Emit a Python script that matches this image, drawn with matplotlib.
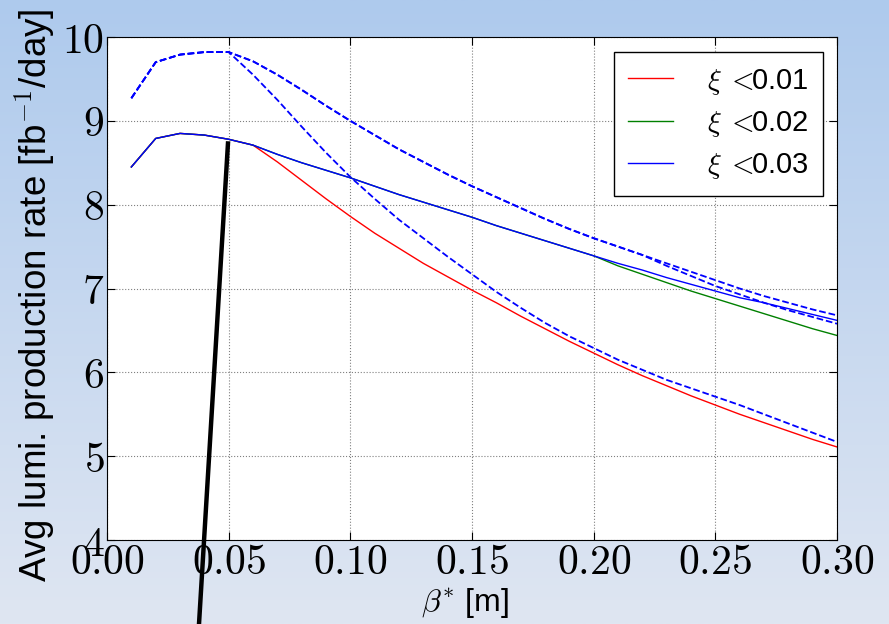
import numpy as np
import matplotlib
matplotlib.use("Agg")
import matplotlib.pyplot as plt
from matplotlib.ticker import FuncFormatter

plt.rcParams['font.family'] = ['Liberation Sans', 'DejaVu Sans']
plt.rcParams['mathtext.fontset'] = 'cm'

# beta* values [m]
beta = [0.01, 0.02, 0.03, 0.04, 0.05, 0.06, 0.07, 0.08, 0.09, 0.10,
        0.11, 0.12, 0.13, 0.14, 0.15, 0.16, 0.17, 0.18, 0.19, 0.20,
        0.21, 0.22, 0.23, 0.24, 0.25, 0.26, 0.27, 0.28, 0.29, 0.30]

# solid curves
rate_xi001 = [8.45, 8.79, 8.85, 8.83, 8.78, 8.71, 8.51, 8.29, 8.07, 7.86,
              7.66, 7.48, 7.30, 7.14, 6.98, 6.83, 6.67, 6.52, 6.37, 6.23,
              6.09, 5.96, 5.84, 5.72, 5.61, 5.50, 5.40, 5.30, 5.20, 5.11]
rate_xi002 = [8.45, 8.79, 8.85, 8.83, 8.78, 8.71, 8.60, 8.50, 8.41, 8.32,
              8.22, 8.12, 8.03, 7.94, 7.85, 7.75, 7.66, 7.57, 7.48, 7.39,
              7.27, 7.17, 7.07, 6.97, 6.88, 6.79, 6.70, 6.61, 6.52, 6.44]
rate_xi003 = [8.45, 8.79, 8.85, 8.83, 8.78, 8.71, 8.60, 8.50, 8.41, 8.32,
              8.22, 8.12, 8.03, 7.94, 7.85, 7.75, 7.66, 7.57, 7.48, 7.39,
              7.30, 7.22, 7.13, 7.05, 6.97, 6.89, 6.83, 6.76, 6.69, 6.62]

# dashed curves
peak_xi001 = [9.27, 9.70, 9.79, 9.82, 9.82, 9.55, 9.25, 8.93, 8.62, 8.33,
              8.07, 7.82, 7.60, 7.38, 7.17, 6.96, 6.77, 6.59, 6.43, 6.29,
              6.15, 6.03, 5.91, 5.81, 5.71, 5.61, 5.50, 5.39, 5.28, 5.17]
peak_xi002 = [9.27, 9.70, 9.79, 9.82, 9.82, 9.71, 9.55, 9.37, 9.18, 9.00,
              8.83, 8.66, 8.51, 8.36, 8.22, 8.09, 7.96, 7.83, 7.71, 7.60,
              7.50, 7.40, 7.27, 7.15, 7.03, 6.93, 6.83, 6.74, 6.66, 6.58]
peak_xi003 = [9.27, 9.70, 9.79, 9.82, 9.82, 9.71, 9.55, 9.37, 9.18, 9.00,
              8.83, 8.66, 8.51, 8.36, 8.22, 8.09, 7.96, 7.83, 7.71, 7.60,
              7.50, 7.40, 7.30, 7.20, 7.10, 7.00, 6.91, 6.83, 6.75, 6.68]

labels = [r'$\xi\;<\!\!$0.01', r'$\xi\;<\!\!$0.02', r'$\xi\;<\!\!$0.03']

# black pointer line drawn on the slide (data coords, runs past the axes)
pointer_x = [0.0497, 0.0378]
pointer_y = [8.73, 3.0]

fig = plt.figure(figsize=(8.89, 6.24), dpi=100)

# slide background gradient
bg = fig.add_axes([0, 0, 1, 1], zorder=-10)
top = np.array([174, 202, 237]) / 255.0
bottom = np.array([223, 230, 242]) / 255.0
t = np.linspace(0, 1, 256)[:, None]
grad = top[None, :] * (1 - t) + bottom[None, :] * t
bg.imshow(grad[:, None, :], aspect='auto', extent=[0, 1, 0, 1])
bg.axis('off')

ax = fig.add_axes([0.1204, 0.1346, 0.8211, 0.8061])
ax.plot(beta, rate_xi001, color='#ff0000', lw=1.0, label=labels[0])
ax.plot(beta, peak_xi001, color='#0000ff', lw=1.3, ls='--')
ax.plot(beta, rate_xi002, color='#008000', lw=1.0, label=labels[1])
ax.plot(beta, peak_xi002, color='#0000ff', lw=1.3, ls='--')
ax.plot(beta, rate_xi003, color='#0000ff', lw=1.0, label=labels[2])
ax.plot(beta, peak_xi003, color='#0000ff', lw=1.3, ls='--')

ax.plot(pointer_x, pointer_y, color='black', lw=3.2, clip_on=False, zorder=5)

ax.set_xlim(0.0, 0.30)
ax.set_ylim(4, 10)
ax.set_xticks(np.arange(0, 0.301, 0.05))
ax.set_yticks(np.arange(4, 10.1, 1))
ax.xaxis.set_major_formatter(FuncFormatter(lambda v, p: r'$%.2f$' % v))
ax.yaxis.set_major_formatter(FuncFormatter(lambda v, p: r'$%d$' % v))
ax.tick_params(direction='in', top=True, right=True, labelsize=30,
               length=6, width=0.8, pad=2)
ax.grid(True, color='0.5', ls=':', lw=0.8)

ax.set_xlabel(r'$\beta^{*}$ [m]', fontsize=23)
ax.xaxis.set_label_coords(0.49, -0.092)
ax.set_ylabel(r'Avg lumi. production rate [fb$^{-1}$/day]', fontsize=26.5)
ax.yaxis.set_label_coords(-0.068, 0.486)

leg = ax.legend(loc='upper right', fontsize=21, handlelength=1.55,
                handletextpad=1.15, borderpad=0.5, labelspacing=0.42,
                borderaxespad=0, fancybox=False, framealpha=1,
                edgecolor='black', bbox_to_anchor=(0.981, 0.970))
leg.get_frame().set_linewidth(1.0)

fig.savefig('out.png', dpi=100)
